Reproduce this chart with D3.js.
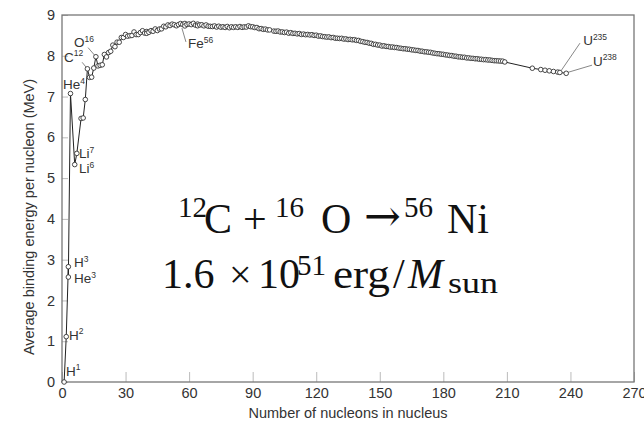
<!DOCTYPE html>
<html>
<head>
<meta charset="utf-8">
<script src="https://cdn.jsdelivr.net/npm/d3@7"></script>
<style>
  body { margin: 0; background: #fff; }
  svg { display: block; }
</style>
</head>
<body>
<svg id="chart" width="644" height="422"></svg>
<script>
"use strict";

// mass number A and binding energy per nucleon (MeV), common isotopes
const massNumbers = [
  1, 2, 3, 3, 4, 6, 7, 9, 10, 11, 12, 13, 14, 15, 16, 17, 18, 19, 20, 21,
  22, 23, 24, 25, 26, 27, 28, 29, 30, 31, 32, 33, 34, 35, 36, 37, 38, 39, 40, 40,
  41, 42, 43, 44, 45, 46, 47, 48, 49, 50, 51, 52, 53, 54, 55, 56, 57, 58, 58, 59,
  60, 61, 62, 63, 64, 64, 65, 66, 67, 68, 69, 70, 71, 72, 73, 74, 75, 76, 77, 78,
  79, 80, 81, 82, 83, 84, 85, 86, 87, 88, 89, 90, 91, 92, 93, 94, 95, 96, 97, 98,
  100, 101, 102, 103, 104, 105, 106, 107, 108, 109, 110, 111, 112, 113, 114, 115, 116, 117, 118, 119,
  120, 121, 122, 123, 124, 125, 126, 127, 128, 129, 130, 131, 132, 133, 134, 135, 136, 137, 138, 139,
  140, 141, 142, 143, 144, 145, 146, 147, 148, 149, 150, 151, 152, 153, 154, 155, 156, 157, 158, 159,
  160, 161, 162, 163, 164, 165, 166, 167, 168, 169, 170, 171, 172, 173, 174, 175, 176, 177, 178, 179,
  180, 181, 182, 183, 184, 185, 186, 187, 188, 189, 190, 191, 192, 193, 194, 195, 196, 197, 198, 199,
  200, 201, 202, 203, 204, 205, 206, 207, 208, 209, 222, 226, 228, 230, 232, 234, 235, 238
];
const bindingEnergy = [
  0.000, 1.112, 2.827, 2.573, 7.074, 5.332, 5.606, 6.463, 6.475, 6.928, 7.680, 7.470, 7.476, 7.699, 7.976, 7.751, 7.767, 7.779, 8.032, 7.972,
  8.080, 8.111, 8.261, 8.223, 8.334, 8.332, 8.448, 8.449, 8.521, 8.481, 8.493, 8.498, 8.584, 8.520, 8.520, 8.570, 8.614, 8.557, 8.595, 8.551,
  8.576, 8.617, 8.601, 8.658, 8.619, 8.656, 8.661, 8.723, 8.711, 8.756, 8.742, 8.776, 8.760, 8.736, 8.765, 8.790, 8.770, 8.792, 8.732, 8.768,
  8.781, 8.765, 8.795, 8.752, 8.777, 8.736, 8.757, 8.760, 8.734, 8.756, 8.725, 8.722, 8.718, 8.732, 8.705, 8.725, 8.701, 8.711, 8.695, 8.718,
  8.688, 8.711, 8.696, 8.711, 8.696, 8.717, 8.697, 8.708, 8.705, 8.733, 8.714, 8.710, 8.693, 8.693, 8.664, 8.667, 8.649, 8.654, 8.635, 8.635,
  8.605, 8.601, 8.607, 8.584, 8.585, 8.571, 8.580, 8.554, 8.567, 8.548, 8.551, 8.537, 8.545, 8.523, 8.532, 8.517, 8.523, 8.510, 8.517, 8.499,
  8.505, 8.482, 8.488, 8.472, 8.467, 8.458, 8.463, 8.445, 8.449, 8.431, 8.430, 8.424, 8.428, 8.410, 8.414, 8.398, 8.403, 8.392, 8.394, 8.378,
  8.376, 8.354, 8.346, 8.331, 8.327, 8.309, 8.304, 8.281, 8.280, 8.263, 8.262, 8.239, 8.244, 8.229, 8.227, 8.213, 8.215, 8.204, 8.202, 8.189,
  8.184, 8.173, 8.173, 8.162, 8.159, 8.147, 8.142, 8.132, 8.130, 8.115, 8.112, 8.098, 8.097, 8.087, 8.084, 8.069, 8.061, 8.052, 8.049, 8.039,
  8.035, 8.023, 8.018, 8.008, 8.005, 7.991, 7.989, 7.974, 7.973, 7.963, 7.963, 7.948, 7.948, 7.938, 7.936, 7.927, 7.927, 7.916, 7.914, 7.905,
  7.906, 7.897, 7.897, 7.887, 7.880, 7.878, 7.875, 7.870, 7.868, 7.848, 7.695, 7.662, 7.645, 7.631, 7.615, 7.600, 7.591, 7.570
];

const xTicks = [0, 30, 60, 90, 120, 150, 180, 210, 240, 270];
const yTicks = [0, 1, 2, 3, 4, 5, 6, 7, 8, 9];

// isotope labels: element, mass number, label anchor (A, MeV)
const labelNames = ["H", "H", "H", "He", "He", "Li", "Li", "C", "O", "Fe", "U", "U"];
const labelMass = ["1", "2", "3", "3", "4", "7", "6", "12", "16", "56", "235", "238"];
const labelA = [1.9, 3.3, 5.7, 5.7, 0.5, 8.0, 8.0, 0.9, 5.7, 59.5, 246, 250.6];
const labelE = [0.15, 1.03, 2.82, 2.42, 7.18, 5.49, 5.12, 7.85, 8.21, 8.19, 8.26, 7.75];

// leader lines [A1, E1, A2, E2]
const leaders = [
  [9.5, 7.84, 12, 7.68],
  [12.3, 8.2, 16, 7.976],
  [56.6, 8.68, 58.5, 8.34],
  [244.5, 8.31, 235.8, 7.65],
  [250.2, 7.77, 238.6, 7.59]
];

const svg = d3.select("#chart");
const margin = { left: 62, right: 10, top: 15, bottom: 40 };
const W = 644, H = 422;

const x = d3.scaleLinear().domain([0, 270]).range([margin.left, W - margin.right]);
const y = d3.scaleLinear().domain([0, 9]).range([H - margin.bottom, margin.top]);

const font = "'Liberation Sans', Arial, Helvetica, sans-serif";

// axes with inner ticks
let xAxis = svg.append("g")
  .attr("transform", `translate(0,${y(0)})`)
  .call(d3.axisBottom(x).tickValues(xTicks).tickSize(-10).tickPadding(6));
let yAxis = svg.append("g")
  .attr("transform", `translate(${x(0)},0)`)
  .call(d3.axisLeft(y).tickValues(yTicks).tickSize(-6).tickPadding(7));

[xAxis, yAxis].forEach(g => {
  g.select(".domain").remove();
  g.selectAll(".tick line").attr("stroke", "#bbb").attr("stroke-width", 1);
  g.selectAll(".tick text")
    .attr("font-family", font).attr("font-size", 14.5).attr("fill", "#333");
});

// frame
svg.append("rect")
  .attr("x", x(0)).attr("y", y(9))
  .attr("width", x(270) - x(0)).attr("height", y(0) - y(9))
  .attr("fill", "none").attr("stroke", "#777").attr("stroke-width", 1.3);

// axis titles
svg.append("text")
  .attr("x", (x(0) + x(270)) / 2).attr("y", 418)
  .attr("text-anchor", "middle")
  .attr("font-family", font).attr("font-size", 14.5).attr("fill", "#333")
  .text("Number of nucleons in nucleus");

svg.append("text")
  .attr("transform", "translate(33.5,217) rotate(-90)")
  .attr("text-anchor", "middle")
  .attr("font-family", font).attr("font-size", 14.5).attr("fill", "#333")
  .text("Average binding energy per nucleon (MeV)");

// leader lines
svg.append("g").selectAll("line").data(leaders).enter().append("line")
  .attr("x1", d => x(d[0])).attr("y1", d => y(d[1]))
  .attr("x2", d => x(d[2])).attr("y2", d => y(d[3]))
  .attr("stroke", "#888").attr("stroke-width", 1);

// curve
let points = massNumbers.map((a, i) => [a, bindingEnergy[i]]);

svg.append("path")
  .datum(points)
  .attr("fill", "none").attr("stroke", "#222").attr("stroke-width", 1)
  .attr("d", d3.line().x(d => x(d[0])).y(d => y(d[1])));

svg.append("g").selectAll("circle").data(points).enter().append("circle")
  .attr("cx", d => x(d[0])).attr("cy", d => y(d[1]))
  .attr("r", 2.3)
  .attr("fill", "#fff").attr("stroke", "#333").attr("stroke-width", 0.9);

// isotope labels
labelNames.forEach((name, i) => {
  let t = svg.append("text")
    .attr("x", x(labelA[i])).attr("y", y(labelE[i]))
    .attr("font-family", font).attr("font-size", 13.5).attr("fill", "#333");
  t.append("tspan").text(name);
  t.append("tspan").attr("font-size", 8.5).attr("dy", -5.5).text(labelMass[i]);
});

// reaction formula
const serif = "'Liberation Serif', 'DejaVu Serif', serif";
const formula = [
  { t: "12", x: 178, y: 217, s: 29 },
  { t: "C", x: 204, y: 233, s: 42 },
  { t: "+", x: 243, y: 233, s: 42 },
  { t: "16", x: 275, y: 217, s: 29 },
  { t: "O", x: 321, y: 233, s: 42 },
  { t: "\u2192", x: 364, y: 231, s: 44, f: "'DejaVu Serif', serif" },
  { t: "56", x: 404, y: 217, s: 29 },
  { t: "Ni", x: 447, y: 233, s: 42 },
  { t: "1.6", x: 162, y: 288, s: 42 },
  { t: "\u00d7", x: 229, y: 288, s: 40 },
  { t: "10", x: 258, y: 288, s: 42 },
  { t: "51", x: 297, y: 275, s: 29 },
  { t: "erg", x: 333, y: 288, s: 42, w: 57 },
  { t: "/", x: 393, y: 288, s: 42 },
  { t: "M", x: 408, y: 288, s: 42, it: true },
  { t: "sun", x: 448, y: 293, s: 30, w: 50 }
];
svg.append("g").selectAll("text").data(formula).enter().append("text")
  .attr("x", d => d.x).attr("y", d => d.y)
  .attr("font-family", d => d.f || serif).attr("font-size", d => d.s)
  .attr("font-style", d => d.it ? "italic" : "normal")
  .attr("textLength", d => d.w || null)
  .attr("lengthAdjust", "spacingAndGlyphs")
  .attr("fill", "#111")
  .text(d => d.t);
</script>
</body>
</html>
